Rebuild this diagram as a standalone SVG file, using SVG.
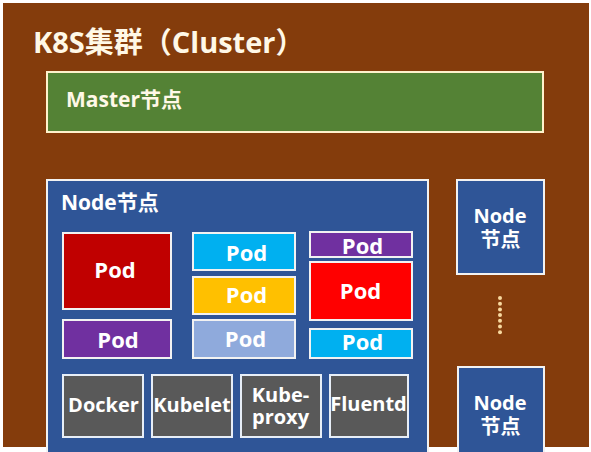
<svg xmlns="http://www.w3.org/2000/svg" width="591" height="452" viewBox="0 0 591 452">
<style>
text{font-family:"Open Sans","Noto Sans CJK SC",sans-serif;font-weight:bold;fill:#FFFFFF}
.c{text-anchor:middle}
.pod{stroke:#F2F2F2;stroke-width:2}
.pt{font-size:22px}
.comp{fill:#595959;stroke:#E7EEF7;stroke-width:2}
.ct{font-size:20px}
.node{fill:#2F5597;stroke:#F2F2F2;stroke-width:2}
.nt{font-size:20px}
</style>
<rect x="0" y="0" width="591" height="452" fill="#FFFFFF"/>
<rect x="3" y="3" width="586" height="444" fill="#843C0C"/>
<text x="33" y="53" style="font-size:29px;fill:#FFF8E7">K8S集群（Cluster）</text>
<g id="master">
<rect x="47" y="72" width="496" height="60" fill="#548235" stroke="#FFF2CC" stroke-width="2"/>
<text x="66" y="107" style="font-size:21px;fill:#FFF8E7">Master节点</text>
</g>
<g id="node-main">
<rect class="node" x="47" y="180" width="381" height="280"/>
<text x="61" y="210" style="font-size:21px">Node节点</text>
</g>
<g id="pod1"><rect class="pod" x="63" y="233" width="108" height="76" fill="#C00000"/><text class="c pt" x="115" y="278">Pod</text></g>
<g id="pod2"><rect class="pod" x="63" y="320" width="108" height="38" fill="#7030A0"/><text class="c pt" x="118" y="347.5">Pod</text></g>
<g id="pod3"><rect class="pod" x="193" y="233" width="102" height="37" fill="#00B0F0"/><text class="c pt" x="246.5" y="261">Pod</text></g>
<g id="pod4"><rect class="pod" x="193" y="277" width="102" height="37" fill="#FFC000"/><text class="c pt" x="246.5" y="303">Pod</text></g>
<g id="pod5"><rect class="pod" x="193" y="320" width="102" height="38" fill="#8FAADC"/><text class="c pt" x="245.5" y="346.5">Pod</text></g>
<g id="pod6"><rect class="pod" x="310" y="232" width="102" height="25" fill="#7030A0"/><text class="c pt" x="362.5" y="254">Pod</text></g>
<g id="pod7"><rect class="pod" x="310" y="262" width="102" height="58" fill="#FF0000"/><text class="c pt" x="360.5" y="299">Pod</text></g>
<g id="pod8"><rect class="pod" x="310" y="329" width="102" height="29" fill="#00B0F0"/><text class="c pt" x="362.5" y="350">Pod</text></g>
<g id="docker"><rect class="comp" x="63" y="375" width="80" height="62"/><text class="c ct" x="103.5" y="412">Docker</text></g>
<g id="kubelet"><rect class="comp" x="152" y="375" width="80" height="62"/><text class="c ct" x="192" y="412">Kubelet</text></g>
<g id="kubeproxy"><rect class="comp" x="241" y="375" width="80" height="62"/><text class="c ct" x="280.5" y="402">Kube-</text><text class="c ct" x="280.5" y="424">proxy</text></g>
<g id="fluentd"><rect class="comp" x="330" y="375" width="78" height="62"/><text class="c ct" x="368.5" y="411">Fluentd</text></g>
<g id="node2">
<rect class="node" x="457" y="180" width="87" height="94"/>
<text class="c nt" x="500" y="223">Node</text>
<text class="c nt" x="500.5" y="247">节点</text>
</g>
<g id="ellipsis" fill="#F8D9A0">
<circle cx="500" cy="298" r="2"/><circle cx="500" cy="303.7" r="2"/><circle cx="500" cy="309.4" r="2"/><circle cx="500" cy="315.1" r="2"/><circle cx="500" cy="320.8" r="2"/><circle cx="500" cy="326.5" r="2"/><circle cx="500" cy="332.2" r="2"/>
</g>
<g id="node3">
<rect class="node" x="458" y="367" width="86" height="95"/>
<text class="c nt" x="500" y="410">Node</text>
<text class="c nt" x="500.5" y="434">节点</text>
</g>
<g id="connectors"></g>
</svg>
